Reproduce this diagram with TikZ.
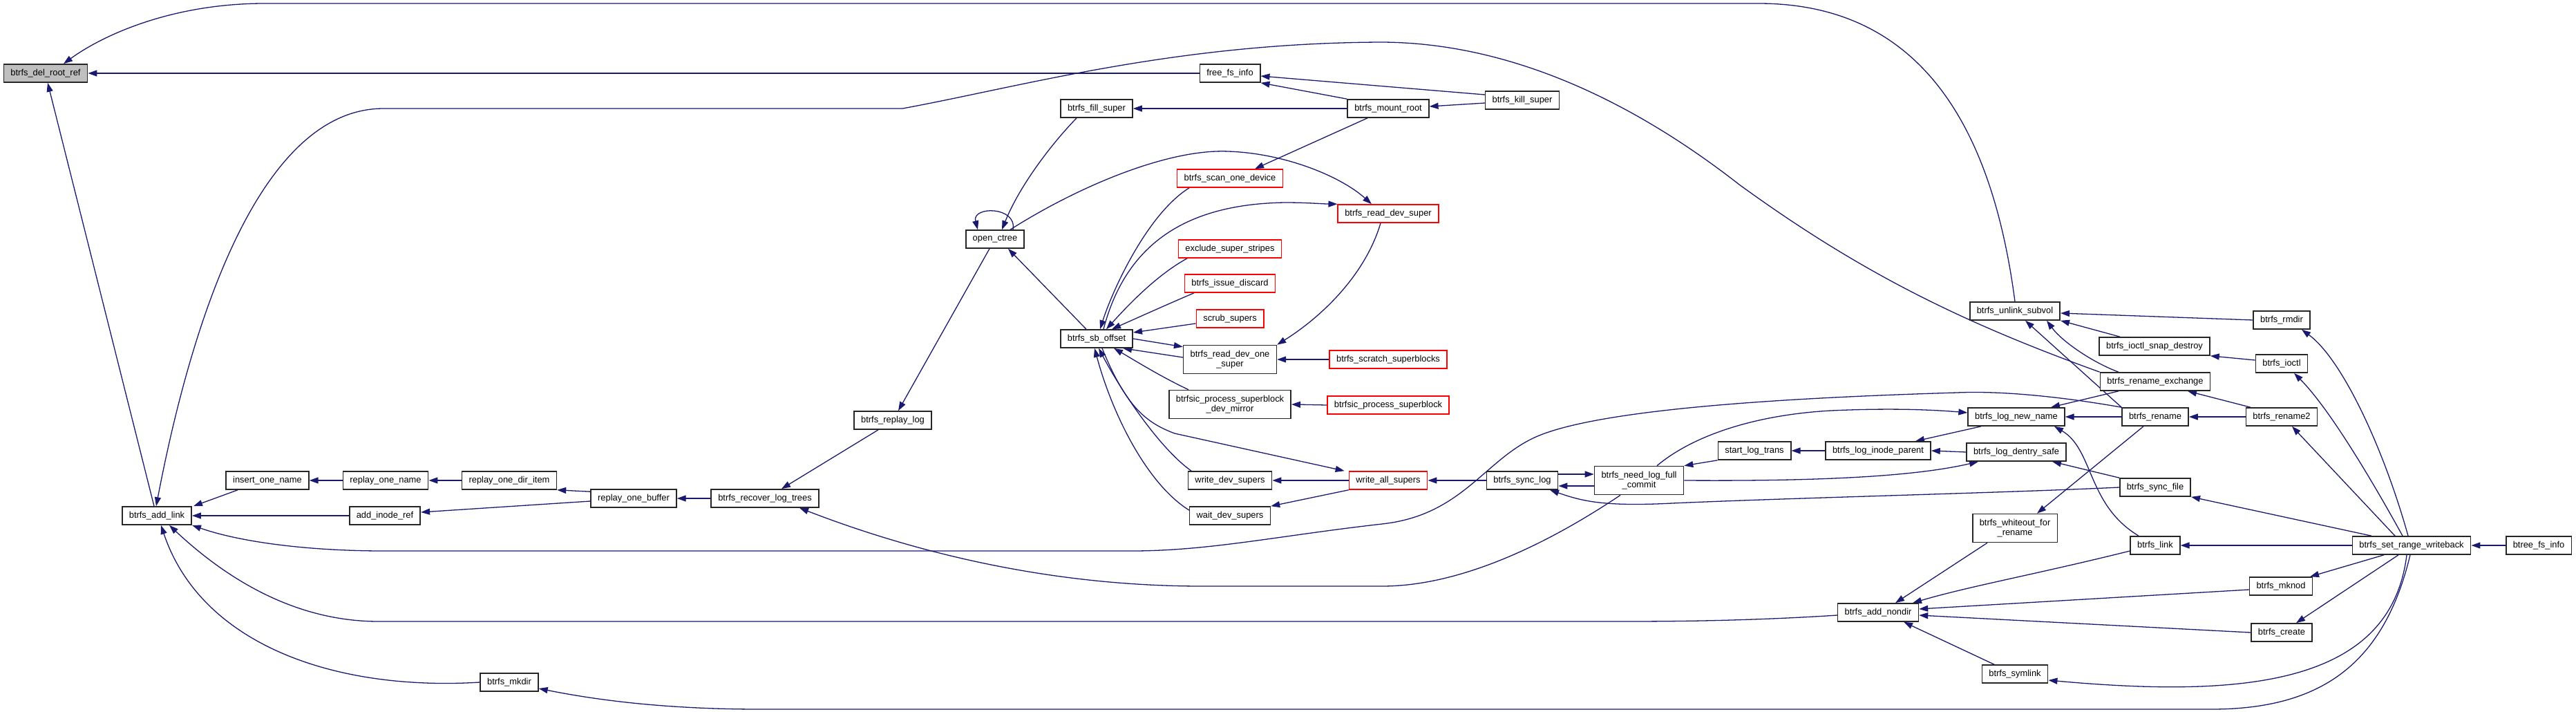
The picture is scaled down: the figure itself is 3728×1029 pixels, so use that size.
\documentclass[tikz,border=0pt]{standalone}
\usepackage{fontspec}
\setmainfont{Liberation Sans}
\usepackage{tikz}
\usetikzlibrary{arrows.meta, backgrounds, positioning}

\definecolor{edgeblue}{HTML}{191970}
\definecolor{focusgrey}{HTML}{BFBFBF}

\begin{document}
\begin{tikzpicture}[x=1pt, y=-1pt,
    fn/.style={draw=black!85, line width=1.6pt, fill=white, inner xsep=10pt, inner ysep=3pt,
        minimum height=26pt, font=\fontsize{12.9}{14.5}\selectfont},
    fnred/.style={fn, draw=red},
    fntwo/.style={fn, align=center, minimum height=41pt},
    call/.style={draw=edgeblue, line width=1.3pt, -{Triangle[length=13pt,width=9pt]}}]
    \useasboundingbox (0,0) rectangle (3728,1029);

    % Focus function
    \node[fn, fill=focusgrey] (delroot) at (66,106) {btrfs\_del\_root\_ref};

    % Log replay chain (left)
    \node[fn] (addlink) at (227,746) {btrfs\_add\_link};
    \node[fn] (insertone) at (387,695) {insert\_one\_name};
    \node[fn] (replayname) at (558,695) {replay\_one\_name};
    \node[fn] (addinoderef) at (557,746) {add\_inode\_ref};
    \node[fn] (replaydir) at (737,695) {replay\_one\_dir\_item};
    \node[fn] (mkdir) at (737,987) {btrfs\_mkdir};
    \node[fn] (replaybuf) at (917,721) {replay\_one\_buffer};
    \node[fn] (recover) at (1107,721) {btrfs\_recover\_log\_trees};
    \node[fn] (replaylog) at (1292,608) {btrfs\_replay\_log};
    \node[fn] (openctree) at (1440,346) {open\_ctree};

    % Super block helpers (middle)
    \node[fn] (fillsuper) at (1587,157) {btrfs\_fill\_super};
    \node[fn] (sboffset) at (1587,490) {btrfs\_sb\_offset};
    \node[fn] (freefs) at (1780,106) {free\_fs\_info};
    \node[fnred] (scandev) at (1780,258) {btrfs\_scan\_one\_device};
    \node[fnred] (exclude) at (1780,360) {exclude\_super\_stripes};
    \node[fnred] (discard) at (1780,410) {btrfs\_issue\_discard};
    \node[fnred] (scrub) at (1780,461) {scrub\_supers};
    \node[fntwo] (readone) at (1780,520) {btrfs\_read\_dev\_one\\\_super};
    \node[fntwo] (devmirror) at (1780,585) {btrfsic\_process\_superblock\\\_dev\_mirror};
    \node[fn] (writedev) at (1780,695) {write\_dev\_supers};
    \node[fn] (waitdev) at (1780,746) {wait\_dev\_supers};
    \node[fn] (mountroot) at (2009,157) {btrfs\_mount\_root};
    \node[fnred] (readsuper) at (2009,309) {btrfs\_read\_dev\_super};
    \node[fnred] (scratch) at (2009,520) {btrfs\_scratch\_superblocks};
    \node[fnred] (procsb) at (2009,586) {btrfsic\_process\_superblock};
    \node[fnred] (writeall) at (2009,695) {write\_all\_supers};
    \node[fn] (killsuper) at (2203,145) {btrfs\_kill\_super};

    % Tree log and inode ops (right)
    \node[fn] (synclog) at (2203,695) {btrfs\_sync\_log};
    \node[fntwo] (needlog) at (2372,695) {btrfs\_need\_log\_full\\\_commit};
    \node[fn] (startlog) at (2539,652) {start\_log\_trans};
    \node[fn] (inodeparent) at (2718,652) {btrfs\_log\_inode\_parent};
    \node[fn] (addnondir) at (2718,886) {btrfs\_add\_nondir};
    \node[fn] (unlink) at (2916,450) {btrfs\_unlink\_subvol};
    \node[fn] (lognewname) at (2918,603) {btrfs\_log\_new\_name};
    \node[fn] (dentrysafe) at (2918,654) {btrfs\_log\_dentry\_safe};
    \node[fntwo] (whiteout) at (2916,764) {btrfs\_whiteout\_for\\\_rename};
    \node[fn] (symlink) at (2916,975) {btrfs\_symlink};
    \node[fn] (snapdestroy) at (3118,501) {btrfs\_ioctl\_snap\_destroy};
    \node[fn] (renameex) at (3119,552) {btrfs\_rename\_exchange};
    \node[fn] (rename) at (3119,603) {btrfs\_rename};
    \node[fn] (syncfile) at (3119,705) {btrfs\_sync\_file};
    \node[fn] (link) at (3119,789) {btrfs\_link};
    \node[fn] (rmdir) at (3302,463) {btrfs\_rmdir};
    \node[fn] (ioctl) at (3302,526) {btrfs\_ioctl};
    \node[fn] (rename2) at (3302,603) {btrfs\_rename2};
    \node[fn] (mknod) at (3301,848) {btrfs\_mknod};
    \node[fn] (create) at (3302,915) {btrfs\_create};
    \node[fn] (setrange) at (3490,789) {btrfs\_set\_range\_writeback};
    \node[fn] (btreefs) at (3674,789) {btree\_fs\_info};

    \begin{scope}[on background layer]
        % Callers of btrfs_del_root_ref
        \draw[call] (unlink.north) .. controls (2885,200) and (2790,5) .. (2545,5) -- (383,5)
            .. controls (250,5) and (150,50) .. ([xshift=26pt]delroot.north);
        \draw[call] (freefs.west) -- (delroot.east);
        \draw[call] ([xshift=-4pt]addlink.north) -- ([xshift=3pt]delroot.south);

        % Callers of btrfs_add_link
        \draw[call] (renameex.north west) .. controls (2850,470) and (2700,400) .. (2517,267)
            .. controls (2380,160) and (2200,62) .. (2000,61) .. controls (1700,62) and (1480,125) .. (1306,157)
            -- (555,157) .. controls (380,157) and (280,450) .. ([xshift=-1pt]addlink.north);
        \draw[call] (rename.north west) .. controls (2990,575) and (2900,565) .. (2832,568)
            .. controls (2600,575) and (2330,590) .. (2230,629) .. controls (2150,660) and (2120,745) .. (2000,758)
            .. controls (1850,775) and (1750,797) .. (1638,797) -- (555,797)
            .. controls (450,797) and (350,785) .. (addlink.south east);
        \draw[call] ([yshift=-4pt]addnondir.west) .. controls (2550,897) and (2450,899) .. (2350,899) -- (548,899)
            .. controls (420,899) and (320,830) .. ([xshift=18pt]addlink.south);
        \draw[call] (mkdir.west) .. controls (480,1000) and (290,930) .. ([xshift=6pt]addlink.south);
        \draw[call] ([xshift=-43pt]insertone.south) -- ([xshift=2pt]addlink.north east);
        \draw[call] (addinoderef.west) -- (addlink.east);

        % Log replay
        \draw[call] (replayname.west) -- (insertone.east);
        \draw[call] (replaydir.west) -- (replayname.east);
        \draw[call] ([yshift=-4pt]replaybuf.north west) -- (replaydir.south east);
        \draw[call] ([yshift=-4pt]replaybuf.west) -- ([yshift=5pt]addinoderef.east);
        \draw[call] (recover.west) -- (replaybuf.east);
        \draw[call] ([xshift=-21pt]replaylog.south) -- ([xshift=24pt]recover.north);
        \draw[call] ([xshift=-8pt]openctree.south) -- ([xshift=8pt]replaylog.north);
        \draw[call] ([xshift=-27pt]needlog.south) .. controls (2250,780) and (2120,848) .. (2000,848) -- (1740,848)
            .. controls (1500,848) and (1300,790) .. ([xshift=50pt]recover.south);
        \draw[call] ([xshift=26pt]needlog.north) .. controls (2450,630) and (2540,600) .. (2650,594)
            .. controls (2740,590) and (2800,593) .. ([yshift=6pt]lognewname.west);

        % Mount and open_ctree
        \draw[call] ([yshift=8pt]killsuper.west) -- ([yshift=-4pt]freefs.east);
        \draw[call] ([yshift=-4pt]killsuper.west) -- ([yshift=3pt]mountroot.east);
        \draw[call] (mountroot.north west) -- (freefs.south east);
        \draw[call] (mountroot.west) -- (fillsuper.east);
        \draw[call] ([xshift=-30pt]mountroot.south) -- ([xshift=36pt]scandev.north);
        \draw[call] ([xshift=-29pt]fillsuper.south) .. controls (1520,210) and (1475,270) .. ([xshift=10pt]openctree.north);
        \draw[call] ([xshift=26pt]openctree.north) .. controls (1472,298) and (1406,298) .. ([xshift=-25pt]openctree.north);
        \draw[call] ([xshift=22pt]openctree.north) .. controls (1560,270) and (1690,215) .. (1778,219)
            .. controls (1860,222) and (1940,255) .. ([xshift=-24pt]readsuper.north);

        % Callers of btrfs_sb_offset
        \draw[call] ([xshift=-15pt]sboffset.north) -- ([xshift=19pt]openctree.south);
        \draw[call] ([xshift=-59pt]scandev.south) .. controls (1660,310) and (1610,420) .. ([xshift=5pt]sboffset.north);
        \draw[call] ([xshift=10pt]sboffset.north) .. controls (1630,350) and (1720,295) .. (1860,293)
            .. controls (1890,293) and (1915,295) .. (readsuper.north west);
        \draw[call] ([xshift=-62pt]exclude.south) .. controls (1670,400) and (1625,450) .. ([xshift=14pt]sboffset.north);
        \draw[call] ([xshift=-52pt]discard.south) .. controls (1690,440) and (1650,458) .. ([xshift=22pt]sboffset.north);
        \draw[call] ([yshift=-7pt]scrub.west) -- ([yshift=9pt]sboffset.east);
        \draw[call] (sboffset.east) -- ([yshift=-3pt]readone.north west);
        \draw[call] ([yshift=3pt]readone.west) -- ([xshift=38pt]sboffset.south);
        \draw[call] ([xshift=-11pt]readsuper.south) .. controls (1975,400) and (1910,460) .. (readone.north east);
        \draw[call] (scratch.west) -- (readone.east);
        \draw[call] ([xshift=-60pt]devmirror.north) .. controls (1680,545) and (1640,520) .. ([xshift=25pt]sboffset.south);
        \draw[call] (procsb.west) -- (devmirror.east);
        \draw[call] ([xshift=8pt]sboffset.south) .. controls (1630,590) and (1660,612) .. (1700,627)
            -- ([xshift=-6pt]writeall.north west);
        \draw[call] ([xshift=-56pt]writedev.north) .. controls (1680,650) and (1625,570) .. ([xshift=3pt]sboffset.south);
        \draw[call] ([yshift=8pt]waitdev.west) .. controls (1660,700) and (1610,600) .. ([xshift=-3pt]sboffset.south);
        \draw[call] (writeall.west) -- (writedev.east);
        \draw[call] (writeall.south west) -- (waitdev.north east);

        % Tree log
        \draw[call] (synclog.west) -- (writeall.east);
        \draw[call] ([yshift=9pt]synclog.east) -- ([yshift=9pt]needlog.west);
        \draw[call] ([yshift=-8pt]needlog.west) -- ([yshift=-8pt]synclog.east);
        \draw[call] (syncfile.west) .. controls (2900,713) and (2600,720) .. (2420,728)
            .. controls (2320,733) and (2290,725) .. ([xshift=40pt]synclog.south);
        \draw[call] (startlog.south west) -- (needlog.north east);
        \draw[call] (inodeparent.west) -- (startlog.east);
        \draw[call] ([xshift=-51pt]lognewname.south) -- ([xshift=54pt]inodeparent.north);
        \draw[call] (dentrysafe.west) -- (inodeparent.east);
        \draw[call] (needlog.east) .. controls (2600,696) and (2760,692) .. ([xshift=-55pt]dentrysafe.south);

        % Callers of btrfs_add_nondir
        \draw[call] ([xshift=-40pt]whiteout.south) -- ([xshift=25pt]addnondir.north);
        \draw[call] ([yshift=-8pt]link.west) .. controls (2950,830) and (2850,848) .. ([xshift=50pt]addnondir.north);
        \draw[call] ([yshift=-5pt]mknod.west) -- ([yshift=5pt]addnondir.east);
        \draw[call] (create.west) -- ([yshift=-4pt]addnondir.east);
        \draw[call] ([xshift=-30pt]symlink.north) -- ([xshift=37pt]addnondir.south);

        % Rename and unlink
        \draw[call] ([xshift=-17pt]rename.south) -- ([xshift=32pt]whiteout.north);
        \draw[call] (rename.north west) -- ([xshift=15pt]unlink.south);
        \draw[call] ([xshift=-53pt]renameex.north) .. controls (3030,525) and (2985,495) .. ([xshift=46pt]unlink.south);
        \draw[call] ([xshift=-50pt]snapdestroy.north) -- (unlink.south east);
        \draw[call] (rmdir.west) -- ([yshift=-3pt]unlink.east);
        \draw[call] ([yshift=5pt]ioctl.west) -- (snapdestroy.south east);
        \draw[call] ([xshift=-53pt]renameex.south) -- ([xshift=50pt]lognewname.north);
        \draw[call] (rename.west) -- (lognewname.east);
        \draw[call] ([xshift=-24pt]link.north) .. controls (3020,730) and (3030,650) .. ([xshift=55pt]lognewname.south);
        \draw[call] ([xshift=-45pt]rename2.north) -- ([xshift=47pt]renameex.south);
        \draw[call] (rename2.west) -- (rename.east);
        \draw[call] (syncfile.north west) -- ([xshift=52pt]dentrysafe.south);

        % Callers of btrfs_set_range_writeback
        \draw[call] ([xshift=-5pt]setrange.north) .. controls (3450,650) and (3390,520) .. ([xshift=29pt]rmdir.south);
        \draw[call] ([xshift=-13pt]setrange.north) .. controls (3430,690) and (3370,590) .. ([xshift=18pt]ioctl.south);
        \draw[call] ([xshift=-24pt]setrange.north) -- ([xshift=15pt]rename2.south);
        \draw[call] ([xshift=-58pt]setrange.north) -- (syncfile.south east);
        \draw[call] (setrange.west) -- (link.east);
        \draw[call] ([xshift=-40pt]setrange.south) -- ([xshift=42pt]mknod.north);
        \draw[call] ([xshift=-19pt]setrange.south) -- ([xshift=21pt]create.north);
        \draw[call] ([xshift=-7pt]setrange.south) .. controls (3460,990) and (3250,1010) .. ([yshift=-9pt]symlink.east);
        \draw[call] ([xshift=-2pt]setrange.south) .. controls (3450,960) and (3360,1026) .. (3200,1026) -- (1100,1026)
            .. controls (950,1026) and (850,1010) .. ([yshift=-9pt]mkdir.east);
        \draw[call] (btreefs.west) -- (setrange.east);
    \end{scope}
\end{tikzpicture}
\end{document}
